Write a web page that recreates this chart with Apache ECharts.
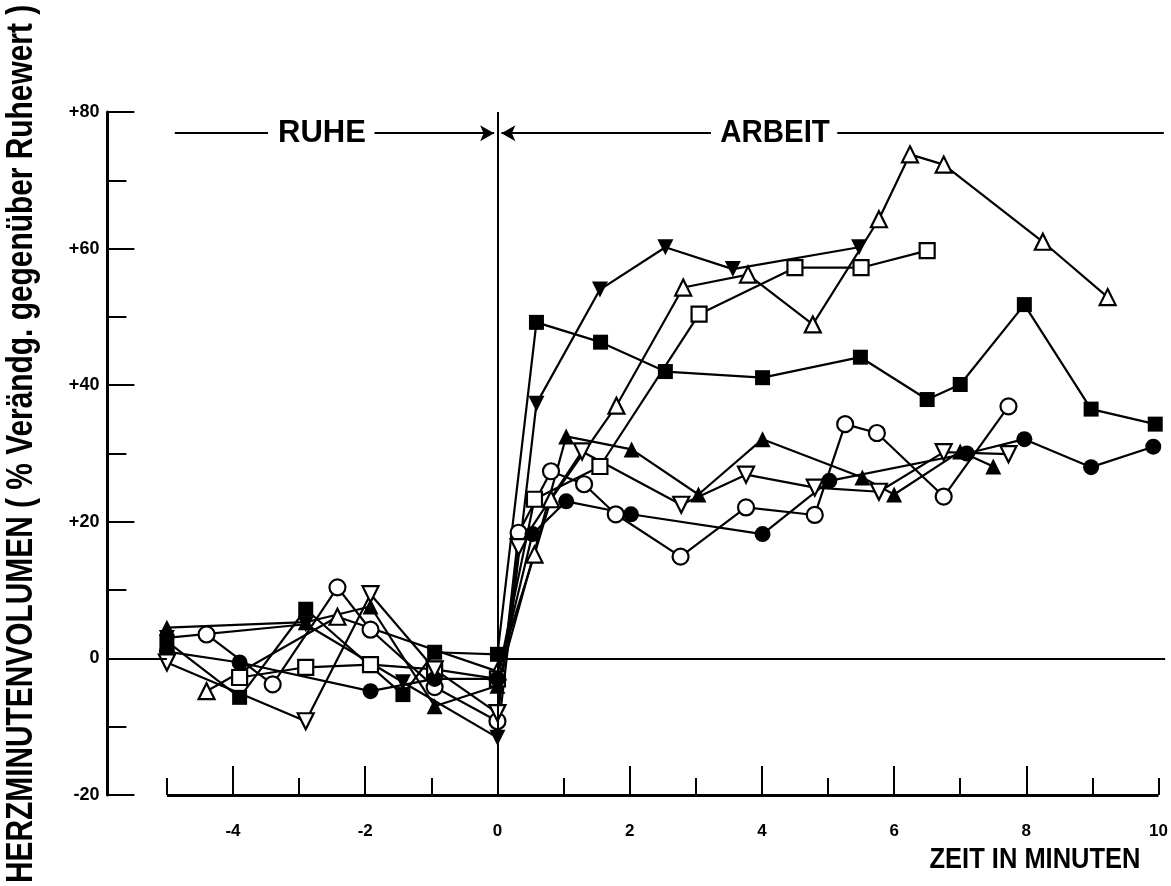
<!DOCTYPE html>
<html><head><meta charset="utf-8">
<script src="https://cdn.jsdelivr.net/npm/echarts@6/dist/echarts.min.js"></script>
<style>html,body{margin:0;padding:0;background:#fff}#c{width:1171px;height:886px}</style>
</head><body><div id="c"></div>
<script>
// [time in minutes, % change vs. rest]
const filledDown = [[-5,3],[-2.9,5],[-1.43,-3.5],[0,-11.6],[0.59,37.3],[1.55,54],[2.54,60.2],[3.56,57],[5.47,60.2]];
const openUp = [[-4.4,-4.8],[-2.42,6.1],[0,-1.9],[0.56,15.2],[0.81,23.3],[1.8,37],[2.81,54.3],[3.79,56.2],[4.77,48.9],[5.77,64.3],[6.24,73.8],[6.75,72.3],[8.25,61],[9.23,52.9]];
const openSquare = [[-3.9,-2.8],[-2.9,-1.3],[-1.92,-0.9],[-0.95,-1.6],[0,-3],[0.56,23.3],[1.55,28.1],[3.05,50.4],[4.5,57.2],[5.5,57.2],[6.5,59.7]];
const filledSquare = [[-5,2.5],[-3.9,-5.7],[-2.9,7.2],[-1.43,-5.3],[-0.95,0.9],[0,0.6],[0.59,49.2],[1.56,46.3],[2.54,42],[4.01,41.1],[5.49,44.1],[6.5,37.9],[7.0,40.1],[7.97,51.8],[8.98,36.5],[9.95,34.3]];
const openCircle = [[-4.4,3.5],[-3.4,-3.8],[-2.42,10.4],[-1.92,4.2],[-0.95,-4.2],[0,-9.2],[0.32,18.4],[0.81,27.4],[1.31,25.5],[1.79,21.1],[2.77,14.9],[3.76,22.1],[4.8,21],[5.26,34.3],[5.74,33],[6.75,23.7],[7.73,36.9]];
const filledCircle = [[-5,1],[-3.9,-0.6],[-1.92,-4.8],[-0.95,-3],[0,-3],[0.53,18.2],[1.04,23],[2.02,21.1],[4.01,18.2],[5.02,26],[7.1,30],[7.97,32.1],[8.98,28],[9.92,31]];
const filledUp = [[-5,4.5],[-2.9,5.3],[-1.92,7.6],[-0.95,-7],[0,-4],[1.04,32.5],[2.03,30.6],[3.04,24],[4.01,32.1],[5.52,26.5],[6.0,24],[7.0,30.3],[7.5,28.1]];
const openDown = [[-5,-0.6],[-2.9,-9.2],[-1.92,9.4],[-0.95,-1.6],[0,-8],[0.32,16.3],[1.28,30.3],[2.78,22.5],[3.76,26.9],[4.8,25],[5.77,24.4],[6.75,30.2],[7.73,29.9]];

const xLabelValues = [-4,-2,0,2,4,6,8,10];
const xMajorTicks = [-4,-2,0,2,4,6,8];
const xMinorTicks = [-5,-3,-1,1,3,5,7,9,10];

const FONT = '"Liberation Sans",Arial,sans-serif';

function mk(name, data, symbol, filled, rotate, size) {
  return {
    type: 'line', name, data, symbol, symbolSize: size, symbolRotate: rotate,
    showAllSymbol: true, animation: false, z: 3,
    lineStyle: { color: '#000', width: 2.2 },
    itemStyle: { color: filled ? '#000' : '#fff', borderColor: '#000', borderWidth: filled ? 0 : 2.2 }
  };
}
const seg = (a, b, extra) => [Object.assign({ coord: a }, extra && extra[0]), Object.assign({ coord: b }, extra && extra[1])];
const annY = 76.9;
const txt = (s, x, y, size, sx, extra) => Object.assign({ type: 'text', x, y, scaleX: sx,
  style: { text: s, font: 'bold ' + size + 'px ' + FONT, fill: '#000', align: 'center', verticalAlign: 'middle', textAlign: 'center', textVerticalAlign: 'middle' } }, extra || {});

const xBase = { type: 'value', min: -5.9, max: 10.1, position: 'bottom',
  axisLine: { show: false, onZero: false }, splitLine: { show: false } };

const chart = echarts.init(document.getElementById('c'), null, { renderer: 'canvas' });
chart.setOption({
  backgroundColor: '#fff',
  animation: false,
  grid: { left: 107.4, right: 4.4, top: 112, bottom: 91 },
  xAxis: [
    Object.assign({}, xBase, { axisTick: { show: false },
      axisLabel: { customValues: xLabelValues, color: '#000', fontSize: 17, fontWeight: 'bold', fontFamily: FONT, margin: 28 } }),
    Object.assign({}, xBase, { axisLabel: { show: false },
      axisTick: { show: true, inside: true, length: 29, customValues: xMajorTicks, lineStyle: { color: '#000', width: 2 } } }),
    Object.assign({}, xBase, { axisLabel: { show: false },
      axisTick: { show: true, inside: true, length: 17, customValues: xMinorTicks, lineStyle: { color: '#000', width: 2 } } })
  ],
  yAxis: {
    type: 'value', min: -20, max: 80, interval: 20,
    axisLine: { show: true, onZero: false, lineStyle: { color: '#000', width: 3 } },
    axisTick: { show: true, inside: true, length: 27, lineStyle: { color: '#000', width: 2 } },
    minorTick: { show: true, splitNumber: 2, length: 19, lineStyle: { color: '#000', width: 2 } },
    splitLine: { show: false },
    axisLabel: { color: '#000', fontSize: 18, fontWeight: 'bold', fontFamily: FONT, margin: 8,
      formatter: v => v > 0 ? '+' + v : String(v) }
  },
  graphic: [
    txt('RUHE', 322, 133, 31, 1),
    txt('ARBEIT', 775, 133, 31, 0.95),
    txt('ZEIT IN MINUTEN', 1035, 860, 30, 0.85),
    txt('HERZMINUTENVOLUMEN ( % Verändg. gegenüber Ruhewert )', 22, 444, 36, 0.83, { rotation: Math.PI / 2 })
  ],
  series: [
    { type: 'line', data: [], silent: true, z: 2,
      markLine: { silent: true, symbol: 'none', animation: false, label: { show: false },
        lineStyle: { color: '#000', width: 2, type: 'solid' },
        data: [
          seg([-5, -20], [10, -20], [{ lineStyle: { width: 3, color: '#000', type: 'solid' } }, {}]),
          seg([0, -20], [0, 80]),
          seg([-5.9, 0], [-5, 0]),
          seg([0, 0], [10.1, 0]),
          seg([-4.88, annY], [-3.47, annY]),
          seg([-1.86, annY], [-0.05, annY], [{ symbol: 'none' }, { symbol: 'arrow', symbolSize: [12, 14] }]),
          seg([0.06, annY], [3.23, annY], [{ symbol: 'arrow', symbolSize: [12, 14] }, { symbol: 'none' }]),
          seg([5.14, annY], [10.08, annY])
        ] } },
    mk('filledDown', filledDown, 'triangle', true, 180, 16),
    mk('openUp', openUp, 'triangle', false, 0, 16),
    mk('openSquare', openSquare, 'rect', false, 0, 15),
    mk('filledSquare', filledSquare, 'rect', true, 0, 15),
    mk('openCircle', openCircle, 'circle', false, 0, 16),
    mk('filledCircle', filledCircle, 'circle', true, 0, 16),
    mk('filledUp', filledUp, 'triangle', true, 0, 16),
    mk('openDown', openDown, 'triangle', false, 180, 16)
  ]
});
</script></body></html>
